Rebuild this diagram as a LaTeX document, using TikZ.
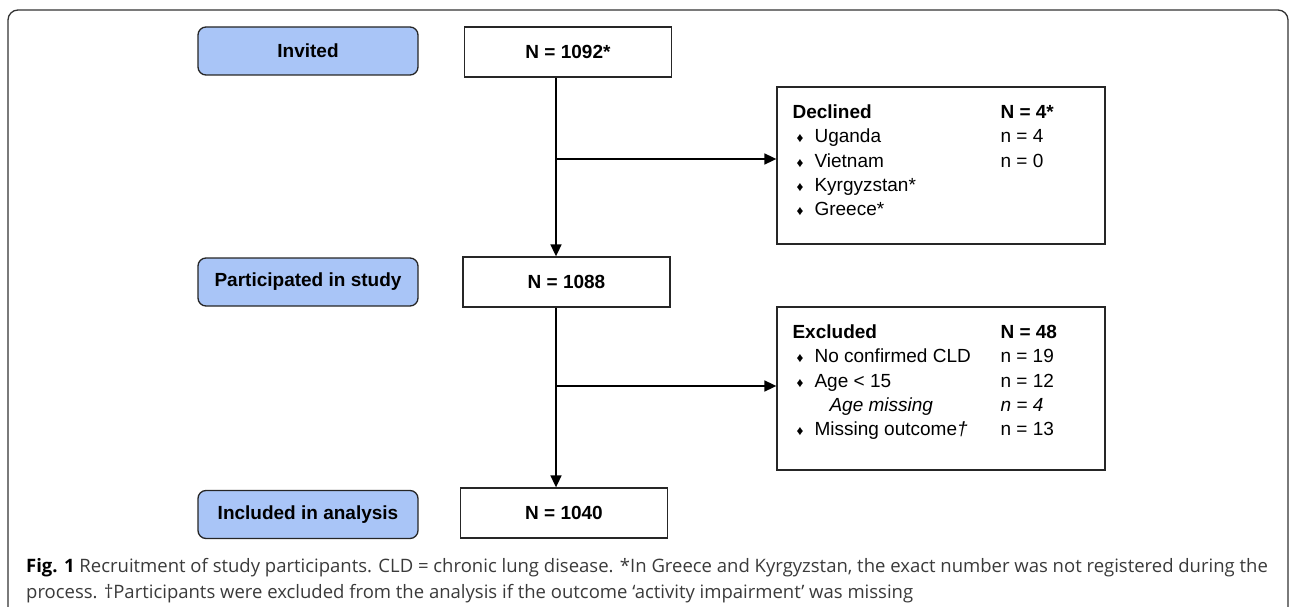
\documentclass[tikz,border=0pt]{standalone}
\usepackage{fontspec}
\setmainfont{Liberation Sans}
\newfontfamily\capfont{Open Sans}
\usetikzlibrary{arrows.meta,calc}
\definecolor{stageblue}{HTML}{A9C5F7}
\definecolor{captext}{HTML}{3A3A3A}
\newcommand{\bul}{\makebox[22pt][l]{\hspace{4pt}\fontsize{13.5}{13.5}\selectfont ♦}}
\tikzset{
  stagebox/.style={draw=black!85,line width=1.3pt,fill=stageblue,rounded corners=8pt,minimum width=220pt,minimum height=48pt,font=\fontsize{19}{23}\selectfont\bfseries},
  countbox/.style={draw=black!85,line width=1.3pt,minimum width=207pt,minimum height=50pt,font=\fontsize{19}{23}\selectfont\bfseries},
  sidebox/.style={draw=black!85,line width=1.3pt,minimum width=328pt},
  sidetext/.style={anchor=base west,inner sep=0pt,font=\fontsize{19}{24.4}\selectfont},
  flowarrow/.style={line width=1.7pt,-{Triangle[length=12pt,width=11pt]}},
  captionline/.style={anchor=base west,inner sep=0pt,text=captext,font=\capfont\fontsize{18.5}{26}\selectfont}
}
\begin{document}
\begin{tikzpicture}[x=1pt,y=-1pt]
    \useasboundingbox (0,0) rectangle (1290,607);
    \clip (0,0) rectangle (1290,607);
    \draw[black!80,line width=1.3pt,rounded corners=10pt] (8,640) -- (8,10) -- (1288,10) -- (1288,640);
    \node[stagebox] (invited) at (308,51) {Invited};
    \node[countbox] (n1092) at (568,52) {N = 1092*};
    \node[stagebox] (particip) at (308,282) {Participated in study};
    \node[countbox] (n1088) at (566.5,282) {N = 1088};
    \node[stagebox] (included) at (308,514.5) {Included in analysis};
    \node[countbox] (n1040) at (564,513) {N = 1040};
    \node[sidebox,minimum height=157pt] (declined) at (941,165.5) {};
    \node[sidebox,minimum height=163pt] (excluded) at (941,388.5) {};
    \node[sidetext] (declinedtxt) at ($(declined.north west)+(16,32)$) {\begin{tabular}[t]{@{}p{208pt}@{}l@{}}
      \textbf{Declined} & \textbf{N = 4*}\\
      \bul Uganda & n = 4\\
      \bul Vietnam & n = 0\\
      \bul Kyrgyzstan* & \\
      \bul Greece* &
    \end{tabular}};
    \node[sidetext] (excludedtxt) at ($(excluded.north west)+(16,32)$) {\begin{tabular}[t]{@{}p{208pt}@{}l@{}}
      \textbf{Excluded} & \textbf{N = 48}\\
      \bul No confirmed CLD & n = 19\\
      \bul Age < 15 & n = 12\\
      \hspace*{37pt}\textit{Age missing} & \textit{n = 4}\\
      \bul Missing outcome\textit{†} & n = 13
    \end{tabular}};
    \coordinate (spine) at (556,0);
    \coordinate (split1) at (556,159);
    \coordinate (split2) at (556,386);
    \draw[flowarrow] (n1092.south -| spine) -- (n1088.north -| spine);
    \draw[flowarrow] (n1088.south -| spine) -- (n1040.north -| spine);
    \draw[flowarrow] (split1) -- (split1 -| declined.west);
    \draw[flowarrow] (split2) -- (split2 -| excluded.west);
    \node[captionline] (capline1) at (26,572) {\textcolor{black}{\bfseries Fig. 1} Recruitment of study participants. CLD = chronic lung disease. *In Greece and Kyrgyzstan, the exact number was not registered during the};
    \node[captionline] (capline2) at (26,598) {process. †Participants were excluded from the analysis if the outcome ‘activity impairment’ was missing};
\end{tikzpicture}
\end{document}
